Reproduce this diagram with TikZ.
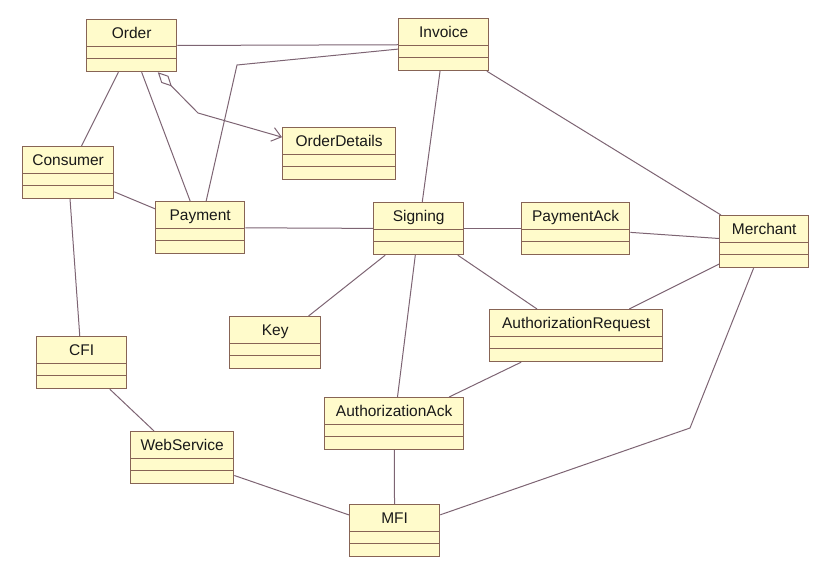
\documentclass[tikz,border=0pt]{standalone}
\usepackage{fontspec}
\setmainfont{Liberation Sans}
\usetikzlibrary{shapes.multipart, arrows.meta}
\definecolor{classfill}{RGB}{255,251,203}
\definecolor{classline}{RGB}{135,100,85}
\definecolor{assocline}{RGB}{125,100,115}
\tikzset{
    classbox/.style={draw=classline, line width=1.3pt, fill=classfill, rectangle split, rectangle split parts=3, inner xsep=0pt, inner ysep=0pt, anchor=north west, font=\fontsize{15.5}{18}\selectfont, text=black!90},
    assoc/.style={draw=assocline, line width=1pt},
    aggarrow/.style={assoc, {Diamond[open, length=20pt, width=10pt]}-{Straight Barb[length=9pt, width=14pt]}}
}
\newcommand{\classname}[1]{\rule[-7.5pt]{0pt}{25.5pt}#1\nodepart{two}\rule{0pt}{10.5pt}\nodepart{three}\rule{0pt}{12pt}}

\begin{document}
\begin{tikzpicture}[x=1pt, y=-1pt]
        \useasboundingbox (0,0) rectangle (831,570);
        \node [classbox, minimum width=90pt] (order) at (86,19) {\classname{Order}};
        \node [classbox, minimum width=90pt] (invoice) at (398,18) {\classname{Invoice}};
        \node [classbox, minimum width=113pt] (orderdetails) at (282,127) {\classname{OrderDetails}};
        \node [classbox, minimum width=91pt] (consumer) at (22,146) {\classname{Consumer}};
        \node [classbox, minimum width=89pt] (payment) at (155,201) {\classname{Payment}};
        \node [classbox, minimum width=90pt] (signing) at (373,202) {\classname{Signing}};
        \node [classbox, minimum width=108pt] (paymentack) at (521,202) {\classname{PaymentAck}};
        \node [classbox, minimum width=89pt] (merchant) at (719,215) {\classname{Merchant}};
        \node [classbox, minimum width=91pt] (key) at (229,316) {\classname{Key}};
        \node [classbox, minimum width=173pt] (authrequest) at (489,309) {\classname{AuthorizationRequest}};
        \node [classbox, minimum width=90pt] (cfi) at (36,336) {\classname{CFI}};
        \node [classbox, minimum width=103pt] (webservice) at (130,431) {\classname{WebService}};
        \node [classbox, minimum width=139pt] (authack) at (324,397) {\classname{AuthorizationAck}};
        \node [classbox, minimum width=90pt] (mfi) at (349,504) {\classname{MFI}};
        \coordinate (invbend) at (237,65);
        \coordinate (aggbend) at (198,113);
        \coordinate (mfibend) at (690,428);
        \draw [assoc] (order) -- (invoice);
        \draw [assoc] (invoice) -- (invbend) -- (payment);
        \draw [aggarrow] (order) -- (aggbend) -- (orderdetails);
        \draw [assoc] (order) -- (consumer);
        \draw [assoc] (order) -- (payment);
        \draw [assoc] (invoice) -- (signing);
        \draw [assoc] (invoice) -- (merchant);
        \draw [assoc] (consumer) -- (payment);
        \draw [assoc] (consumer) -- (cfi);
        \draw [assoc] (payment) -- (signing);
        \draw [assoc] (signing) -- (paymentack);
        \draw [assoc] (paymentack) -- (merchant);
        \draw [assoc] (signing) -- (key);
        \draw [assoc] (signing) -- (authack);
        \draw [assoc] (signing) -- (authrequest);
        \draw [assoc] (merchant) -- (authrequest);
        \draw [assoc] (authrequest) -- (authack);
        \draw [assoc] (merchant) -- (mfibend) -- (mfi);
        \draw [assoc] (cfi) -- (webservice);
        \draw [assoc] (webservice) -- (mfi);
        \draw [assoc] (authack) -- (mfi);
    \end{tikzpicture}
\end{document}
